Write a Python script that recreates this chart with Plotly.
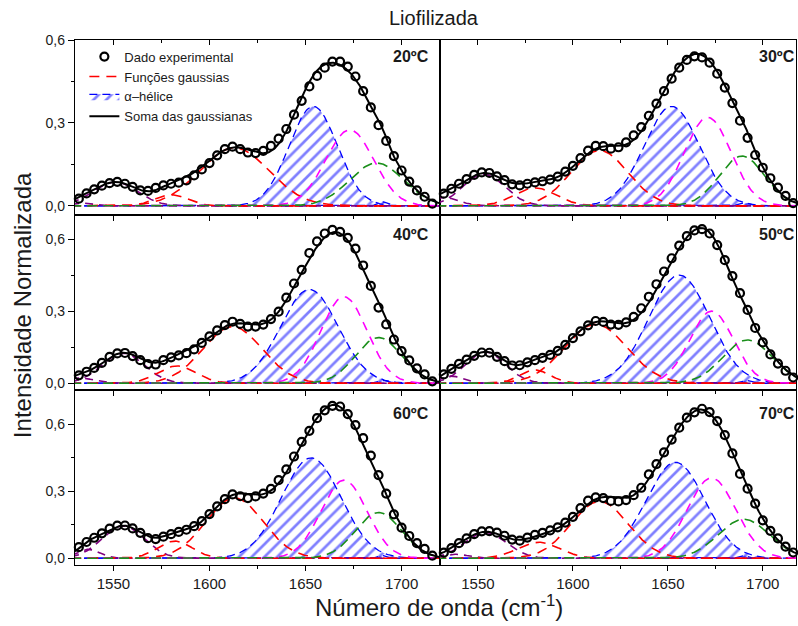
import numpy as np
import plotly.graph_objects as go
from plotly.subplots import make_subplots

# Measured wavenumbers (cm-1) of the amide I spectra
wavenumber = list(range(1532, 1717, 4))

panel_labels = ["20ºC", "30ºC", "40ºC", "50ºC", "60ºC", "70ºC"]

# Normalised absorbance of the lyophilised sample at each temperature
exp_20c = [0.026, 0.045, 0.060, 0.073, 0.082, 0.087, 0.080, 0.069, 0.056, 0.054,
           0.065, 0.074, 0.080, 0.084, 0.092, 0.110, 0.132, 0.155, 0.183, 0.205,
           0.214, 0.205, 0.193, 0.191, 0.199, 0.217, 0.243, 0.278, 0.330, 0.380,
           0.432, 0.470, 0.500, 0.522, 0.522, 0.504, 0.468, 0.415, 0.356, 0.292,
           0.235, 0.180, 0.128, 0.088, 0.056, 0.033, 0.008]
exp_30c = [0.044, 0.062, 0.080, 0.097, 0.112, 0.121, 0.119, 0.107, 0.093, 0.078,
           0.074, 0.080, 0.085, 0.089, 0.095, 0.106, 0.124, 0.145, 0.173, 0.200,
           0.217, 0.216, 0.207, 0.212, 0.230, 0.255, 0.285, 0.326, 0.370, 0.415,
           0.460, 0.500, 0.528, 0.541, 0.537, 0.518, 0.478, 0.428, 0.372, 0.308,
           0.246, 0.184, 0.138, 0.100, 0.066, 0.036, 0.010]
exp_40c = [0.033, 0.048, 0.064, 0.085, 0.110, 0.124, 0.126, 0.113, 0.096, 0.080,
           0.078, 0.096, 0.108, 0.116, 0.125, 0.141, 0.168, 0.195, 0.220, 0.242,
           0.256, 0.247, 0.236, 0.236, 0.244, 0.267, 0.298, 0.356, 0.415, 0.472,
           0.542, 0.590, 0.623, 0.638, 0.630, 0.605, 0.560, 0.490, 0.405, 0.315,
           0.245, 0.182, 0.134, 0.095, 0.062, 0.037, 0.008]
exp_50c = [0.037, 0.060, 0.081, 0.098, 0.114, 0.128, 0.127, 0.110, 0.092, 0.074,
           0.075, 0.087, 0.096, 0.106, 0.118, 0.135, 0.160, 0.188, 0.216, 0.241,
           0.259, 0.255, 0.244, 0.243, 0.253, 0.276, 0.312, 0.360, 0.412, 0.465,
           0.520, 0.573, 0.612, 0.636, 0.641, 0.623, 0.575, 0.512, 0.446, 0.375,
           0.305, 0.230, 0.170, 0.120, 0.082, 0.052, 0.024]
exp_60c = [0.050, 0.073, 0.092, 0.112, 0.133, 0.146, 0.147, 0.134, 0.114, 0.090,
           0.086, 0.097, 0.108, 0.118, 0.128, 0.144, 0.167, 0.198, 0.233, 0.265,
           0.286, 0.278, 0.270, 0.277, 0.290, 0.311, 0.350, 0.398, 0.456, 0.522,
           0.571, 0.628, 0.663, 0.683, 0.680, 0.646, 0.597, 0.538, 0.460, 0.373,
           0.290, 0.197, 0.137, 0.100, 0.068, 0.042, 0.012]
exp_70c = [0.025, 0.046, 0.068, 0.089, 0.108, 0.121, 0.122, 0.115, 0.101, 0.084,
           0.079, 0.093, 0.105, 0.114, 0.125, 0.139, 0.160, 0.186, 0.225, 0.258,
           0.273, 0.270, 0.257, 0.255, 0.261, 0.283, 0.316, 0.376, 0.422, 0.475,
           0.532, 0.585, 0.630, 0.654, 0.670, 0.655, 0.615, 0.552, 0.470, 0.378,
           0.312, 0.245, 0.170, 0.123, 0.089, 0.052, 0.026]

# Fitted gaussian bands: centre (cm-1), height and standard deviation (cm-1)
# band order: ~1535, ~1553, ~1581, ~1613, alpha-helix, ~1672, ~1689, ~1690
centers_20c = [1534, 1551, 1580, 1613, 1654, 1673, 1687, 1690]
heights_20c = [0.010, 0.086, 0.040, 0.210, 0.360, 0.275, 0.155, 0.015]
sigmas_20c = [6.0, 11.5, 8.5, 18.0, 12.5, 12.5, 14.0, 2.5]

centers_30c = [1532, 1553, 1580, 1614, 1652, 1671, 1689, 1690]
heights_30c = [0.030, 0.115, 0.065, 0.200, 0.360, 0.320, 0.180, 0.012]
sigmas_30c = [8.0, 11.0, 11.0, 15.0, 14.5, 12.3, 12.0, 2.5]

centers_40c = [1532, 1555, 1583, 1612, 1652, 1670, 1688, 1690]
heights_40c = [0.022, 0.125, 0.072, 0.235, 0.390, 0.360, 0.190, 0.012]
sigmas_40c = [8.0, 11.0, 10.0, 15.5, 15.0, 12.0, 12.0, 2.5]

centers_50c = [1536, 1554, 1580, 1612, 1656, 1673, 1692, 1691]
heights_50c = [0.030, 0.130, 0.055, 0.245, 0.450, 0.300, 0.180, 0.012]
sigmas_50c = [6.0, 10.5, 8.0, 16.5, 16.0, 11.5, 13.0, 2.5]

centers_60c = [1537, 1555, 1582, 1613, 1653, 1670, 1688, 1690]
heights_60c = [0.040, 0.145, 0.077, 0.270, 0.450, 0.350, 0.205, 0.012]
sigmas_60c = [6.0, 11.0, 9.0, 15.0, 15.5, 12.0, 12.0, 2.5]

centers_70c = [1538, 1554, 1582, 1614, 1654, 1673, 1690, 1690]
heights_70c = [0.018, 0.115, 0.072, 0.255, 0.430, 0.360, 0.175, 0.012]
sigmas_70c = [7.0, 11.0, 11.0, 15.0, 15.5, 12.8, 13.5, 2.5]

# Band styling
band_colors = ["#800080", "#800080", "#ff0000", "#ff0000", "#0000ff",
               "#ff00ff", "#1a8f1a", "#0000ff"]
band_dashes = ["8px,6px", "8px,6px", "10px,7px", "10px,7px", "8px,5px",
               "9px,7px", "10px,6px", "8px,5px"]
hatched_bands = [4, 7]      # alpha-helix bands drawn as hatched areas
legend_band = 3             # dashed band used as legend sample

FONT = "Liberation Sans"
TEXT = "#1a1a1a"

panels = [
    (exp_20c, centers_20c, heights_20c, sigmas_20c),
    (exp_30c, centers_30c, heights_30c, sigmas_30c),
    (exp_40c, centers_40c, heights_40c, sigmas_40c),
    (exp_50c, centers_50c, heights_50c, sigmas_50c),
    (exp_60c, centers_60c, heights_60c, sigmas_60c),
    (exp_70c, centers_70c, heights_70c, sigmas_70c),
]

y_ranges = {1: [-0.033, 0.6], 2: [-0.028, 0.70], 3: [-0.030, 0.754]}
x_ranges = {1: [1530, 1720], 2: [1530, 1717.5]}
label_y = {1: 0.903, 2: 0.886, 3: 0.863}


def gaussian(x, c, h, s):
    return h * np.exp(-0.5 * ((x - c) / s) ** 2)


x_fine = np.arange(1528.0, 1722.0, 0.5)

fig = make_subplots(rows=3, cols=2, column_widths=[365, 356],
                    horizontal_spacing=0, vertical_spacing=0)

for i, (exp_vals, cen, hei, sig) in enumerate(panels):
    row, col = i // 2 + 1, i % 2 + 1
    first = i == 0
    bands = [gaussian(x_fine, c, h, s) for c, h, s in zip(cen, hei, sig)]
    total = np.sum(bands, axis=0)

    # hatched alpha-helix areas
    for k in hatched_bands:
        fig.add_trace(go.Scatter(
            x=x_fine, y=bands[k], mode="lines", fill="tozeroy",
            line=dict(color=band_colors[k], width=1.3, dash=band_dashes[k]),
            fillcolor="rgba(0,0,0,0)",
            fillpattern=dict(shape="/", fgcolor="#0000ff", bgcolor="rgba(0,0,0,0)",
                             size=9, solidity=0.3),
            name="α–hélice", showlegend=first and k == 4, legendrank=3,
            hoverinfo="skip"), row=row, col=col)

    # remaining gaussian bands
    for k, band in enumerate(bands):
        if k in hatched_bands:
            continue
        fig.add_trace(go.Scatter(
            x=x_fine, y=band, mode="lines",
            line=dict(color=band_colors[k], width=1.6, dash=band_dashes[k]),
            name="Funções gaussias", showlegend=first and k == legend_band,
            legendrank=2, hoverinfo="skip"), row=row, col=col)

    # sum of the gaussian bands
    fig.add_trace(go.Scatter(
        x=x_fine, y=total, mode="lines", line=dict(color="black", width=2),
        name="Soma das gaussianas", showlegend=first, legendrank=4,
        hoverinfo="skip"), row=row, col=col)

    # experimental points
    fig.add_trace(go.Scatter(
        x=wavenumber, y=exp_vals, mode="markers",
        marker=dict(symbol="circle-open", size=8, color="black",
                    line=dict(width=2.2, color="black")),
        cliponaxis=False, name="Dado experimental", showlegend=first,
        legendrank=1), row=row, col=col)

    xref = "x domain" if i == 0 else f"x{i + 1} domain"
    yref = "y domain" if i == 0 else f"y{i + 1} domain"
    fig.add_annotation(text=f"<b>{panel_labels[i]}</b>", xref=xref, yref=yref,
                       x=0.975 if col == 1 else 1.004, y=label_y[row],
                       xanchor="right", yanchor="middle", showarrow=False,
                       font=dict(family=FONT, size=16, color=TEXT))

    fig.update_xaxes(
        range=x_ranges[col], showline=True, linecolor="black", linewidth=1.3,
        mirror=True, ticks="outside", ticklen=5, tickwidth=1.3, tickcolor="black",
        tickvals=[1550, 1600, 1650, 1700], showticklabels=(row == 3),
        minor=dict(tickvals=[1575, 1625, 1675], ticks="outside", ticklen=3,
                   tickwidth=1.2, tickcolor="black"),
        tickfont=dict(family=FONT, size=15, color=TEXT),
        showgrid=False, zeroline=False, row=row, col=col)
    fig.update_yaxes(
        range=y_ranges[row], showline=True, linecolor="black", linewidth=1.3,
        mirror=True, ticks="outside" if col == 1 else "", ticklen=6,
        tickwidth=1.3, tickcolor="black",
        tickvals=[0, 0.3, 0.6], ticktext=["0,0", "0,3", "0,6"],
        showticklabels=(col == 1),
        minor=dict(tickvals=[0.15, 0.45], ticks="outside" if col == 1 else "",
                   ticklen=3, tickwidth=1.2, tickcolor="black"),
        tickfont=dict(family=FONT, size=14, color=TEXT),
        showgrid=False, zeroline=False, row=row, col=col)

# inward ticks along the top edge of the upper panels
for n, base in ((7, "x"), (8, "x2")):
    fig.update_layout(**{f"xaxis{n}": dict(
        overlaying=base, anchor="y" if base == "x" else "y2", side="top",
        range=x_ranges[1 if base == "x" else 2], ticks="inside", ticklen=5,
        tickwidth=1.3, tickcolor="black", tickvals=[1550, 1600, 1650, 1700],
        minor=dict(tickvals=[1575, 1625, 1675], ticks="inside", ticklen=3,
                   tickwidth=1.2, tickcolor="black"),
        showticklabels=False, showgrid=False, zeroline=False, showline=False)})
    fig.add_trace(go.Scatter(x=[None], y=[None], xaxis=f"x{n}",
                             yaxis="y" if base == "x" else "y2",
                             showlegend=False, hoverinfo="skip"))

fig.add_annotation(text="Liofilizada", xref="paper", yref="paper",
                   x=0.498, y=1.042, xanchor="center", yanchor="middle",
                   showarrow=False, font=dict(family=FONT, size=20, color=TEXT))
fig.add_annotation(text="Intensidade Normalizada", xref="paper", yref="paper",
                   x=-0.0735, y=0.495, xanchor="center", yanchor="middle",
                   textangle=-90, showarrow=False,
                   font=dict(family=FONT, size=24, color=TEXT))
fig.add_annotation(text="Número de onda (cm<sup>-1</sup>)", xref="paper",
                   yref="paper", x=0.505, y=-0.078, xanchor="center",
                   yanchor="middle", showarrow=False,
                   font=dict(family=FONT, size=24, color=TEXT))

fig.update_layout(
    width=798, height=626,
    margin=dict(l=75, r=2, t=40, b=61),
    paper_bgcolor="white", plot_bgcolor="white",
    showlegend=True,
    legend=dict(x=0.013, y=0.997, xanchor="left", yanchor="top",
                bgcolor="rgba(0,0,0,0)", borderwidth=0,
                font=dict(family=FONT, size=13, color=TEXT),
                tracegroupgap=0),
)

fig.write_html("out.html")
